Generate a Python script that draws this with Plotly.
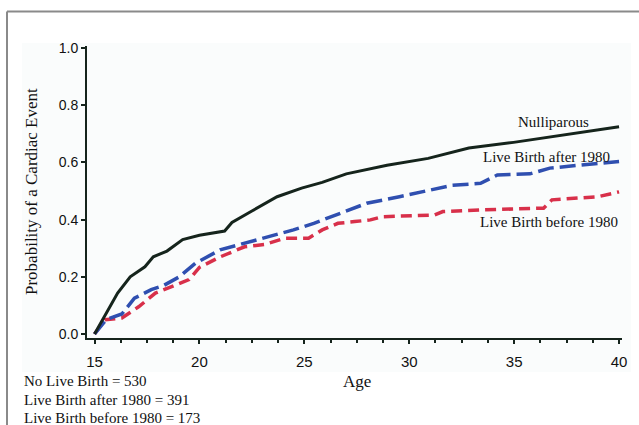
import plotly.graph_objects as go

# ---- data ----
ages_null = [15.0, 15.55, 16.1, 16.7, 17.4, 17.8, 18.45, 19.2, 20.0, 21.2, 21.55, 22.5,
             23.7, 24.87, 25.85, 27.0, 28.94, 30.9, 32.84, 34.97, 37.7, 40.0]
prob_null = [0.0, 0.073, 0.143, 0.20, 0.235, 0.27, 0.29, 0.33, 0.345, 0.36, 0.39, 0.43,
             0.48, 0.51, 0.53, 0.56, 0.59, 0.614, 0.65, 0.67, 0.70, 0.725]

ages_after = [15.0, 15.55, 16.3, 16.9, 17.7, 18.3, 19.04, 19.8, 20.98, 22.15, 23.3, 24.48,
              25.45, 26.6, 27.97, 29.53, 31.1, 32.05, 33.4, 34.2, 35.75, 36.7, 38.1, 40.0]
prob_after = [0.0, 0.05, 0.07, 0.125, 0.155, 0.17, 0.20, 0.247, 0.294, 0.317, 0.34, 0.364,
              0.387, 0.42, 0.457, 0.48, 0.503, 0.52, 0.527, 0.556, 0.56, 0.58, 0.59, 0.603]

ages_before = [15.0, 15.5, 16.3, 17.1, 17.9, 18.7, 19.5, 20.0, 21.0, 22.15, 23.1, 24.06,
               25.2, 25.85, 26.6, 27.4, 28.15, 28.7, 31.2, 31.6, 33.4, 36.4, 36.8, 39.0, 40.0]
prob_before = [0.0, 0.05, 0.056, 0.095, 0.143, 0.165, 0.19, 0.233, 0.27, 0.305, 0.313, 0.335,
               0.335, 0.364, 0.387, 0.393, 0.399, 0.41, 0.416, 0.428, 0.434, 0.44, 0.469, 0.48, 0.497]

x_ticks = [15, 20, 25, 30, 35, 40]
y_ticks = [0.0, 0.2, 0.4, 0.6, 0.8, 1.0]
y_ticktext = ["0.0", "0.2", "0.4", "0.6", "0.8", "1.0"]

curve_labels = ["Nulliparous", "Live Birth after 1980", "Live Birth before 1980"]
count_lines = ["No Live Birth = 530", "Live Birth after 1980 = 391", "Live Birth before 1980 = 173"]

# ---- layout geometry ----
W, H = 639, 425
L, R, T, B = 87, 622, 46, 338


def px(xp):
    return (xp - L) / (R - L)


def py(yp):
    return (B - yp) / (B - T)


AXC = "#15241c"
SERIF = "Liberation Serif, Times New Roman, serif"
SANS = "Liberation Sans, Arial, sans-serif"

fig = go.Figure()
fig.add_trace(go.Scatter(x=ages_before, y=prob_before, mode="lines",
                         line=dict(color="#d8304a", width=3.5, dash="11px,6px"),
                         showlegend=False, hoverinfo="skip"))
fig.add_trace(go.Scatter(x=ages_after, y=prob_after, mode="lines",
                         line=dict(color="#2f4fb0", width=3.5, dash="16px,6px"),
                         showlegend=False, hoverinfo="skip"))
fig.add_trace(go.Scatter(x=ages_null, y=prob_null, mode="lines",
                         line=dict(color="#15241c", width=3),
                         showlegend=False, hoverinfo="skip"))

annotations = [
    dict(x=px(553), y=py(122), text=curve_labels[0]),
    dict(x=px(546), y=py(157), text=curve_labels[1]),
    dict(x=px(549), y=py(222), text=curve_labels[2]),
]
for a in annotations:
    a.update(xref="paper", yref="paper", xanchor="center", yanchor="middle",
             showarrow=False, font=dict(family=SERIF, size=15, color="#111"))

for i, (t, yc) in enumerate(zip(count_lines, [381, 400, 418])):
    annotations.append(dict(x=px(22), y=py(yc), text=t, xref="paper", yref="paper",
                            xanchor="left", yanchor="middle", showarrow=False,
                            font=dict(family=SERIF, size=15, color="#111")))

annotations.append(dict(x=px(357), y=py(381), text="Age", xref="paper", yref="paper",
                        xanchor="center", yanchor="middle", showarrow=False,
                        font=dict(family=SERIF, size=17, color="#111")))
annotations.append(dict(x=px(31), y=py(192), text="Probability of a Cardiac Event",
                        xref="paper", yref="paper", xanchor="center", yanchor="middle",
                        textangle=-90, showarrow=False,
                        font=dict(family=SERIF, size=17, color="#111")))

shapes = [
    # faint panel
    dict(type="rect", xref="paper", yref="paper", x0=px(22), x1=px(631), y0=py(372), y1=py(43),
         fillcolor="#fafcfc", line=dict(width=0), layer="below"),
    # outer frame
    dict(type="line", xref="paper", yref="paper", x0=px(7), x1=px(640), y0=py(11.5), y1=py(11.5),
         line=dict(color="#8a8a8a", width=2)),
    dict(type="line", xref="paper", yref="paper", x0=px(7), x1=px(7), y0=py(11.5), y1=py(426),
         line=dict(color="#8a8a8a", width=2)),
]

fig.update_layout(
    width=W, height=H,
    margin=dict(l=L, r=W - R, t=T, b=H - B, pad=0),
    paper_bgcolor="white", plot_bgcolor="rgba(0,0,0,0)",
    annotations=annotations, shapes=shapes,
    showlegend=False,
)
fig.update_xaxes(range=[14.64, 40.14], showgrid=False, zeroline=False,
                 showline=True, linecolor=AXC, linewidth=2,
                 tickmode="array", tickvals=x_ticks, ticks="outside", ticklen=4,
                 tickwidth=2, tickcolor=AXC, ticklabelstandoff=5,
                 minor=dict(dtick=1.25, tick0=15, ticks="outside", ticklen=3, tickwidth=2,
                            tickcolor=AXC, showgrid=False),
                 tickfont=dict(family=SANS, size=15, color="#111"))
fig.update_yaxes(range=[-0.014, 1.007], showgrid=False, zeroline=False,
                 showline=True, linecolor=AXC, linewidth=2,
                 tickmode="array", tickvals=y_ticks, ticktext=y_ticktext,
                 ticks="outside", ticklen=4, tickwidth=2, tickcolor=AXC,
                 tickfont=dict(family=SANS, size=14, color="#111"))

fig.write_html("out.html", config={"displayModeBar": False},
               post_script="document.body.style.margin='0px';document.body.style.overflow='hidden';")
